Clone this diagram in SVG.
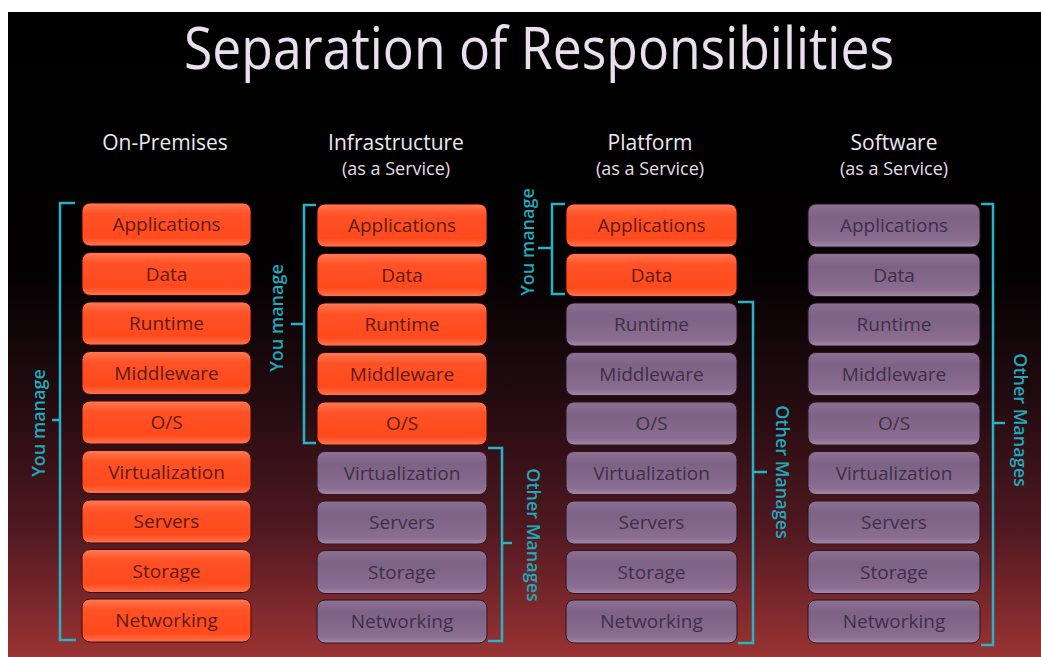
<svg xmlns="http://www.w3.org/2000/svg" width="1041" height="657" viewBox="0 0 1041 657">
<defs>
<linearGradient id="bg" gradientUnits="userSpaceOnUse" x1="0" y1="12" x2="0" y2="657">
<stop offset="0" stop-color="#000000"/>
<stop offset="0.4" stop-color="#030102"/>
<stop offset="0.6" stop-color="#220b10"/>
<stop offset="0.8" stop-color="#501820"/>
<stop offset="1" stop-color="#9a3333"/>
</linearGradient>
<linearGradient id="og" x1="0" y1="0" x2="0" y2="1">
<stop offset="0" stop-color="#ff7a55"/>
<stop offset="0.25" stop-color="#ff5226"/>
<stop offset="0.8" stop-color="#ff4a1c"/>
<stop offset="1" stop-color="#ff7550"/>
</linearGradient>
<linearGradient id="pg" x1="0" y1="0" x2="0" y2="1">
<stop offset="0" stop-color="#8d7193"/>
<stop offset="0.3" stop-color="#7d6285"/>
<stop offset="0.85" stop-color="#8a6d90"/>
<stop offset="1" stop-color="#a38aa8"/>
</linearGradient>
<style>
.t{font-family:"Open Sans","Noto Sans",sans-serif;}
.title{font-size:58px;fill:#eadfee;}
.hd{font-size:21px;fill:#eee6f0;font-weight:500;}
.sub{font-size:18px;fill:#e6dcea;}
.o rect{fill:url(#og);stroke:#3a0a08;stroke-width:1;}
.p rect{fill:url(#pg);stroke:#2a1525;stroke-width:1;}
.o text{font-size:19px;fill:#5e1a16;text-anchor:middle;font-weight:500;}
.p text{font-size:19px;fill:#3e2f48;text-anchor:middle;font-weight:500;}
.br{fill:none;stroke:#27b2c6;stroke-width:2.5;}
.lb{font-size:18px;fill:#1fa9bd;font-weight:600;text-anchor:middle;dominant-baseline:central;}
</style>
</defs>
<rect x="0" y="0" width="1041" height="657" fill="#ffffff"/>
<rect x="8" y="12" width="1033" height="645" fill="url(#bg)"/>

<text class="t title" x="539" y="69" text-anchor="middle" textLength="710" lengthAdjust="spacingAndGlyphs">Separation of Responsibilities</text>

<g id="headers" class="t">
<text class="hd" x="165" y="150" text-anchor="middle">On-Premises</text>
<text class="hd" x="396" y="150" text-anchor="middle">Infrastructure</text>
<text class="sub" x="396" y="175" text-anchor="middle">(as a Service)</text>
<text class="hd" x="650" y="150" text-anchor="middle">Platform</text>
<text class="sub" x="650" y="175" text-anchor="middle">(as a Service)</text>
<text class="hd" x="894" y="150" text-anchor="middle">Software</text>
<text class="sub" x="894" y="175" text-anchor="middle">(as a Service)</text>
</g>

<!-- Column 1: On-Premises -->
<g id="onprem" class="t">
<g id="c1-apps" class="o"><rect x="82" y="203" width="169" height="43" rx="8"/><text x="166.5" y="231">Applications</text></g>
<g id="c1-data" class="o"><rect x="82" y="252.5" width="169" height="43" rx="8"/><text x="166.5" y="280.5">Data</text></g>
<g id="c1-runtime" class="o"><rect x="82" y="302" width="169" height="43" rx="8"/><text x="166.5" y="330">Runtime</text></g>
<g id="c1-mw" class="o"><rect x="82" y="351.5" width="169" height="43" rx="8"/><text x="166.5" y="379.5">Middleware</text></g>
<g id="c1-os" class="o"><rect x="82" y="401" width="169" height="43" rx="8"/><text x="166.5" y="429">O/S</text></g>
<g id="c1-virt" class="o"><rect x="82" y="450.5" width="169" height="43" rx="8"/><text x="166.5" y="478.5">Virtualization</text></g>
<g id="c1-srv" class="o"><rect x="82" y="500" width="169" height="43" rx="8"/><text x="166.5" y="528">Servers</text></g>
<g id="c1-sto" class="o"><rect x="82" y="549.5" width="169" height="43" rx="8"/><text x="166.5" y="577.5">Storage</text></g>
<g id="c1-net" class="o"><rect x="82" y="599" width="169" height="43" rx="8"/><text x="166.5" y="627">Networking</text></g>
</g>

<!-- Column 2: IaaS -->
<g id="iaas" class="t">
<g id="c2-apps" class="o"><rect x="317" y="204" width="170" height="43" rx="8"/><text x="402" y="232">Applications</text></g>
<g id="c2-data" class="o"><rect x="317" y="253.5" width="170" height="43" rx="8"/><text x="402" y="281.5">Data</text></g>
<g id="c2-runtime" class="o"><rect x="317" y="303" width="170" height="43" rx="8"/><text x="402" y="331">Runtime</text></g>
<g id="c2-mw" class="o"><rect x="317" y="352.5" width="170" height="43" rx="8"/><text x="402" y="380.5">Middleware</text></g>
<g id="c2-os" class="o"><rect x="317" y="402" width="170" height="43" rx="8"/><text x="402" y="430">O/S</text></g>
<g id="c2-virt" class="p"><rect x="317" y="451.5" width="170" height="43" rx="8"/><text x="402" y="479.5">Virtualization</text></g>
<g id="c2-srv" class="p"><rect x="317" y="501" width="170" height="43" rx="8"/><text x="402" y="529">Servers</text></g>
<g id="c2-sto" class="p"><rect x="317" y="550.5" width="170" height="43" rx="8"/><text x="402" y="578.5">Storage</text></g>
<g id="c2-net" class="p"><rect x="317" y="600" width="170" height="43" rx="8"/><text x="402" y="628">Networking</text></g>
</g>

<!-- Column 3: PaaS -->
<g id="paas" class="t">
<g id="c3-apps" class="o"><rect x="566" y="204" width="171" height="43" rx="8"/><text x="651.5" y="232">Applications</text></g>
<g id="c3-data" class="o"><rect x="566" y="253.5" width="171" height="43" rx="8"/><text x="651.5" y="281.5">Data</text></g>
<g id="c3-runtime" class="p"><rect x="566" y="303" width="171" height="43" rx="8"/><text x="651.5" y="331">Runtime</text></g>
<g id="c3-mw" class="p"><rect x="566" y="352.5" width="171" height="43" rx="8"/><text x="651.5" y="380.5">Middleware</text></g>
<g id="c3-os" class="p"><rect x="566" y="402" width="171" height="43" rx="8"/><text x="651.5" y="430">O/S</text></g>
<g id="c3-virt" class="p"><rect x="566" y="451.5" width="171" height="43" rx="8"/><text x="651.5" y="479.5">Virtualization</text></g>
<g id="c3-srv" class="p"><rect x="566" y="501" width="171" height="43" rx="8"/><text x="651.5" y="529">Servers</text></g>
<g id="c3-sto" class="p"><rect x="566" y="550.5" width="171" height="43" rx="8"/><text x="651.5" y="578.5">Storage</text></g>
<g id="c3-net" class="p"><rect x="566" y="600" width="171" height="43" rx="8"/><text x="651.5" y="628">Networking</text></g>
</g>

<!-- Column 4: SaaS -->
<g id="saas" class="t">
<g id="c4-apps" class="p"><rect x="808" y="204" width="172" height="43" rx="8"/><text x="894" y="232">Applications</text></g>
<g id="c4-data" class="p"><rect x="808" y="253.5" width="172" height="43" rx="8"/><text x="894" y="281.5">Data</text></g>
<g id="c4-runtime" class="p"><rect x="808" y="303" width="172" height="43" rx="8"/><text x="894" y="331">Runtime</text></g>
<g id="c4-mw" class="p"><rect x="808" y="352.5" width="172" height="43" rx="8"/><text x="894" y="380.5">Middleware</text></g>
<g id="c4-os" class="p"><rect x="808" y="402" width="172" height="43" rx="8"/><text x="894" y="430">O/S</text></g>
<g id="c4-virt" class="p"><rect x="808" y="451.5" width="172" height="43" rx="8"/><text x="894" y="479.5">Virtualization</text></g>
<g id="c4-srv" class="p"><rect x="808" y="501" width="172" height="43" rx="8"/><text x="894" y="529">Servers</text></g>
<g id="c4-sto" class="p"><rect x="808" y="550.5" width="172" height="43" rx="8"/><text x="894" y="578.5">Storage</text></g>
<g id="c4-net" class="p"><rect x="808" y="600" width="172" height="43" rx="8"/><text x="894" y="628">Networking</text></g>
</g>

<!-- Brackets -->
<g id="connectors">
<path class="br" d="M75,203 H60 V640 H76 M60,420 H52"/>
<path class="br" d="M316,205 H304 V443 H316 M304,324 H291"/>
<path class="br" d="M488,448 H502 V641 H488 M502,543 H512"/>
<path class="br" d="M565,204 H552 V294 H565 M552,248 H538"/>
<path class="br" d="M738,302 H753 V643 H738 M753,472 H767"/>
<path class="br" d="M981,204 H993 V645 H981 M993,423 H1005"/>
</g>

<g id="bracket-labels" class="t">
<text class="lb" transform="translate(38,423) rotate(-90)">You manage</text>
<text class="lb" transform="translate(276,318) rotate(-90)">You manage</text>
<text class="lb" transform="translate(527,242) rotate(-90)">You manage</text>
<text class="lb" transform="translate(534,535) rotate(90)">Other Manages</text>
<text class="lb" transform="translate(783,472) rotate(90)">Other Manages</text>
<text class="lb" transform="translate(1021,420) rotate(90)">Other Manages</text>
</g>
</svg>
